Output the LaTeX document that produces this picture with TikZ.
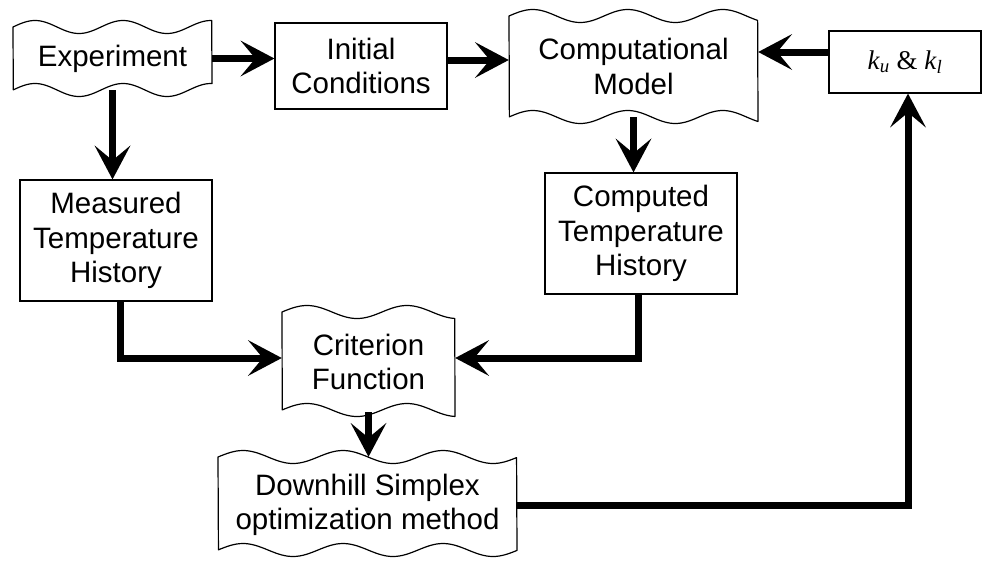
\documentclass[tikz,border=0pt]{standalone}
\usepackage{fontspec}
\setmainfont{Liberation Sans}
\newfontfamily\seriffont{Liberation Serif}
\usetikzlibrary{arrows.meta}
\tikzset{
  lbl/.style={font=\fontsize{29.5}{34.5}\selectfont, align=center, inner sep=0pt},
  boxnode/.style={lbl, draw, line width=1.2pt},
  ghost/.style={lbl},
  outline/.style={line width=1.2pt, line join=round},
  conn/.style={line width=7pt, -{Stealth[length=34pt,width=36pt,inset=15pt,line width=0pt]}}
}
\newcommand{\wavyoutline}[6]{%
  \draw[outline] plot[domain=0:1,samples=100,smooth] ({#1+\x*(#2-#1)},{#3-#5*sin(\x*((#2-#1)/#6)*360)})
  -- plot[domain=0:1,samples=100,smooth] ({#2-\x*(#2-#1)},{#4-#5*sin((1-\x)*((#2-#1)/#6)*360)}) -- cycle;}
\begin{document}
\begin{tikzpicture}[x=1pt,y=-1pt]
\useasboundingbox (0,0) rectangle (982,560);
% wavy outlines
\wavyoutline{13}{212}{27}{90}{6.5}{88}
\wavyoutline{509}{758}{16}{117}{6.5}{95}
\wavyoutline{282}{455}{312}{410}{6.5}{100}
\wavyoutline{218}{517}{457}{550}{6.5}{100}
% nodes
\node[ghost, minimum width=199pt, minimum height=63pt] (exp) at (112.5,58.5) {Experiment};
\node[boxnode, minimum width=172pt, minimum height=86pt] (init) at (361,66) {Initial\\Conditions};
\node[ghost, minimum width=249pt, minimum height=101pt] (comp) at (633.5,66.5) {Computational\\Model};
\node[boxnode, minimum width=152pt, minimum height=62pt, font=\seriffont\fontsize{27}{30}\selectfont] (kbox) at (905,62) {\textit{k}\textsubscript{\textit{u}} \& \textit{k}\textsubscript{\textit{l}}};
\node[boxnode, minimum width=192pt, minimum height=121pt] (meas) at (116,240.5) {Measured\\Temperature\\History};
\node[boxnode, minimum width=192pt, minimum height=121pt] (cmpt) at (641,233.5) {Computed\\Temperature\\History};
\node[ghost, minimum width=173pt, minimum height=100pt] (crit) at (368.5,362) {Criterion\\Function};
\node[ghost, minimum width=299pt, minimum height=96pt] (down) at (367.5,505) {Downhill Simplex\\optimization method};
% connectors
\draw[conn] (exp.east) -- (exp.east -| init.west);
\draw[conn] ([yshift=6pt]init.east) -- ([yshift=6pt]init.east -| comp.west);
\draw[conn] ([yshift=10pt]kbox.west) -- ([yshift=10pt]kbox.west -| comp.east);
\draw[conn] (comp.south) -- (comp.south |- cmpt.north);
\draw[conn] (exp.south) -- (exp.south |- meas.north);
\draw[conn] ([xshift=4pt]meas.south) |- ([yshift=4pt]crit.west);
\draw[conn] ([xshift=-3pt]cmpt.south) |- ([yshift=4pt]crit.east);
\draw[conn] (crit.south) -- (crit.south |- down.north);
\draw[conn] (down.east) -| ([xshift=3pt]kbox.south);
\end{tikzpicture}
\end{document}
